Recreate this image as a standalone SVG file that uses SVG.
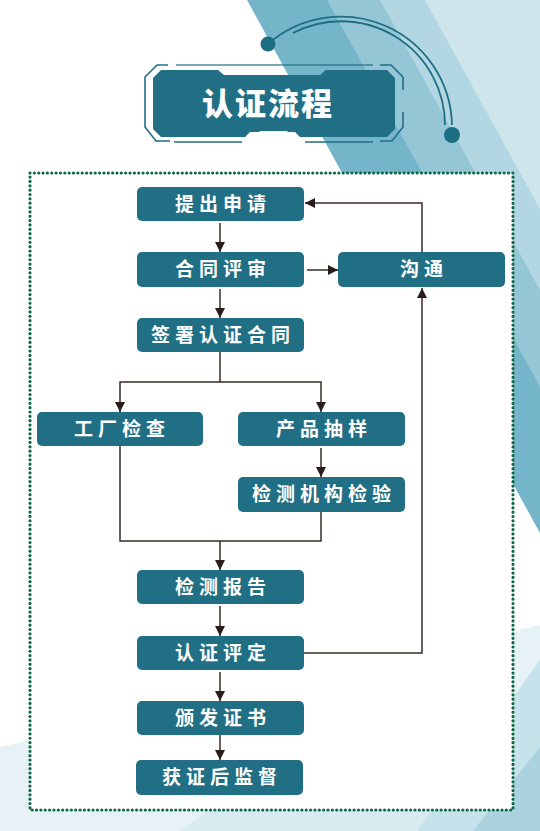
<svg xmlns="http://www.w3.org/2000/svg" width="540" height="831" viewBox="0 0 540 831">
<defs>
<style>
.node rect{fill:#216f84;}
.node text{fill:#ffffff;font-family:"Noto Sans CJK SC","Noto Sans",sans-serif;font-weight:bold;font-size:19px;letter-spacing:5px;text-anchor:middle;}
.conn path{fill:none;stroke:#3a2b29;stroke-width:1.5;marker-end:url(#arr);}
.frame{fill:none;stroke:#216f84;stroke-width:1.6;}
</style>
<marker id="arr" markerUnits="userSpaceOnUse" viewBox="0 0 10 10" markerWidth="10" markerHeight="10" refX="10" refY="5" orient="auto">
<path d="M0,0 L10,5 L0,10 z" fill="#2a1d1b"/>
</marker>
</defs>
<rect x="0" y="0" width="540" height="831" fill="#ffffff"/>
<g id="background">
<polygon points="247,0 540,0 540,533" fill="#74b5ca"/>
<polygon points="327,0 540,0 540,387" fill="#95c6d5"/>
<polygon points="380,0 540,0 540,290" fill="#b3d7e2"/>
<polygon points="425,0 540,0 540,209" fill="#cfe5ec"/>
<polygon points="0,747 540,625 540,831 0,831" fill="#e6f2f5"/>
<polygon points="180,831 235,790 540,770 540,831" fill="#d8ebf0"/>
<polygon points="540,660 417,831 540,831" fill="#c6e2ea"/>
<polygon points="540,747 473,831 540,831" fill="#aad3df"/>
</g>
<g id="title-arc" fill="none" stroke="#1e6e83" stroke-width="1.8">
<path d="M268,44 A111,111 0 0 1 452,125"/>
<path d="M293,33 A104,104 0 0 1 445,125"/>
<circle cx="268" cy="44" r="7.5" fill="#1e6e83" stroke="none"/>
<circle cx="452" cy="135" r="8" fill="#1e6e83" stroke="none"/>
</g>
<g id="title">
<polygon points="161,70 218,70 224,75 320,75 326,70 387,70 395,78 395,129 387,137 300,137 295,132 250,132 245,137 161,137 153,129 153,78" fill="#216f84"/>
<polygon points="260,131 287,131 292,137 255,137" fill="#ffffff"/>
<path class="frame" d="M168,65 H157 L145,77 V127 L156,141 H170"/>
<path class="frame" d="M176,65 H373" stroke-width="1" opacity="0.8"/>
<path class="frame" d="M380,65 H391 L403,77 V90"/>
<path class="frame" d="M403,112 V127 L392,141 H380"/>
<path class="frame" d="M174,142 H242 M305,142 H373" stroke-width="1.2"/>
<text x="268" y="115" fill="#ffffff" font-family="Noto Sans CJK SC, Noto Sans, sans-serif" font-weight="900" font-size="31" letter-spacing="2" text-anchor="middle">认证流程</text>
</g>
<rect id="panel" x="30" y="173" width="483" height="637" fill="#ffffff" stroke="#0d6647" stroke-width="3.2" stroke-dasharray="0 4.35" stroke-linecap="round"/>
<g id="connectors" class="conn">
<path d="M220,223 V252"/>
<path d="M220,289 V318"/>
<path d="M307,270 H338"/>
<path d="M422,252 V203 H305"/>
<path d="M304,653 H422 V288"/>
<path d="M220,352 V382 H120 V412"/>
<path d="M220,382 H321 V412"/>
<path d="M321,448 V477"/>
<path d="M120,446 V541 H321 V512" style="marker-end:none"/>
<path d="M220,541 V570"/>
<path d="M220,606 V636"/>
<path d="M220,672 V701"/>
<path d="M220,735 V760"/>
</g>
<g id="n1" class="node"><rect x="137" y="187" width="167" height="34" rx="5"/><text x="223" y="211">提出申请</text></g>
<g id="n2" class="node"><rect x="137" y="252" width="167" height="35" rx="5"/><text x="223" y="276">合同评审</text></g>
<g id="n3" class="node"><rect x="338" y="252" width="167" height="35" rx="5"/><text x="424" y="276">沟通</text></g>
<g id="n4" class="node"><rect x="137" y="318" width="167" height="34" rx="5"/><text x="223" y="342">签署认证合同</text></g>
<g id="n5" class="node"><rect x="37" y="412" width="166" height="34" rx="5"/><text x="122" y="436">工厂检查</text></g>
<g id="n6" class="node"><rect x="238" y="412" width="167" height="34" rx="5"/><text x="324" y="436">产品抽样</text></g>
<g id="n7" class="node"><rect x="238" y="477" width="167" height="35" rx="5"/><text x="324" y="501">检测机构检验</text></g>
<g id="n8" class="node"><rect x="137" y="570" width="167" height="34" rx="5"/><text x="223" y="594">检测报告</text></g>
<g id="n9" class="node"><rect x="137" y="636" width="167" height="34" rx="5"/><text x="223" y="660">认证评定</text></g>
<g id="n10" class="node"><rect x="137" y="701" width="167" height="34" rx="5"/><text x="223" y="725">颁发证书</text></g>
<g id="n11" class="node"><rect x="136" y="760" width="167" height="35" rx="5"/><text x="222" y="784">获证后监督</text></g>
</svg>
